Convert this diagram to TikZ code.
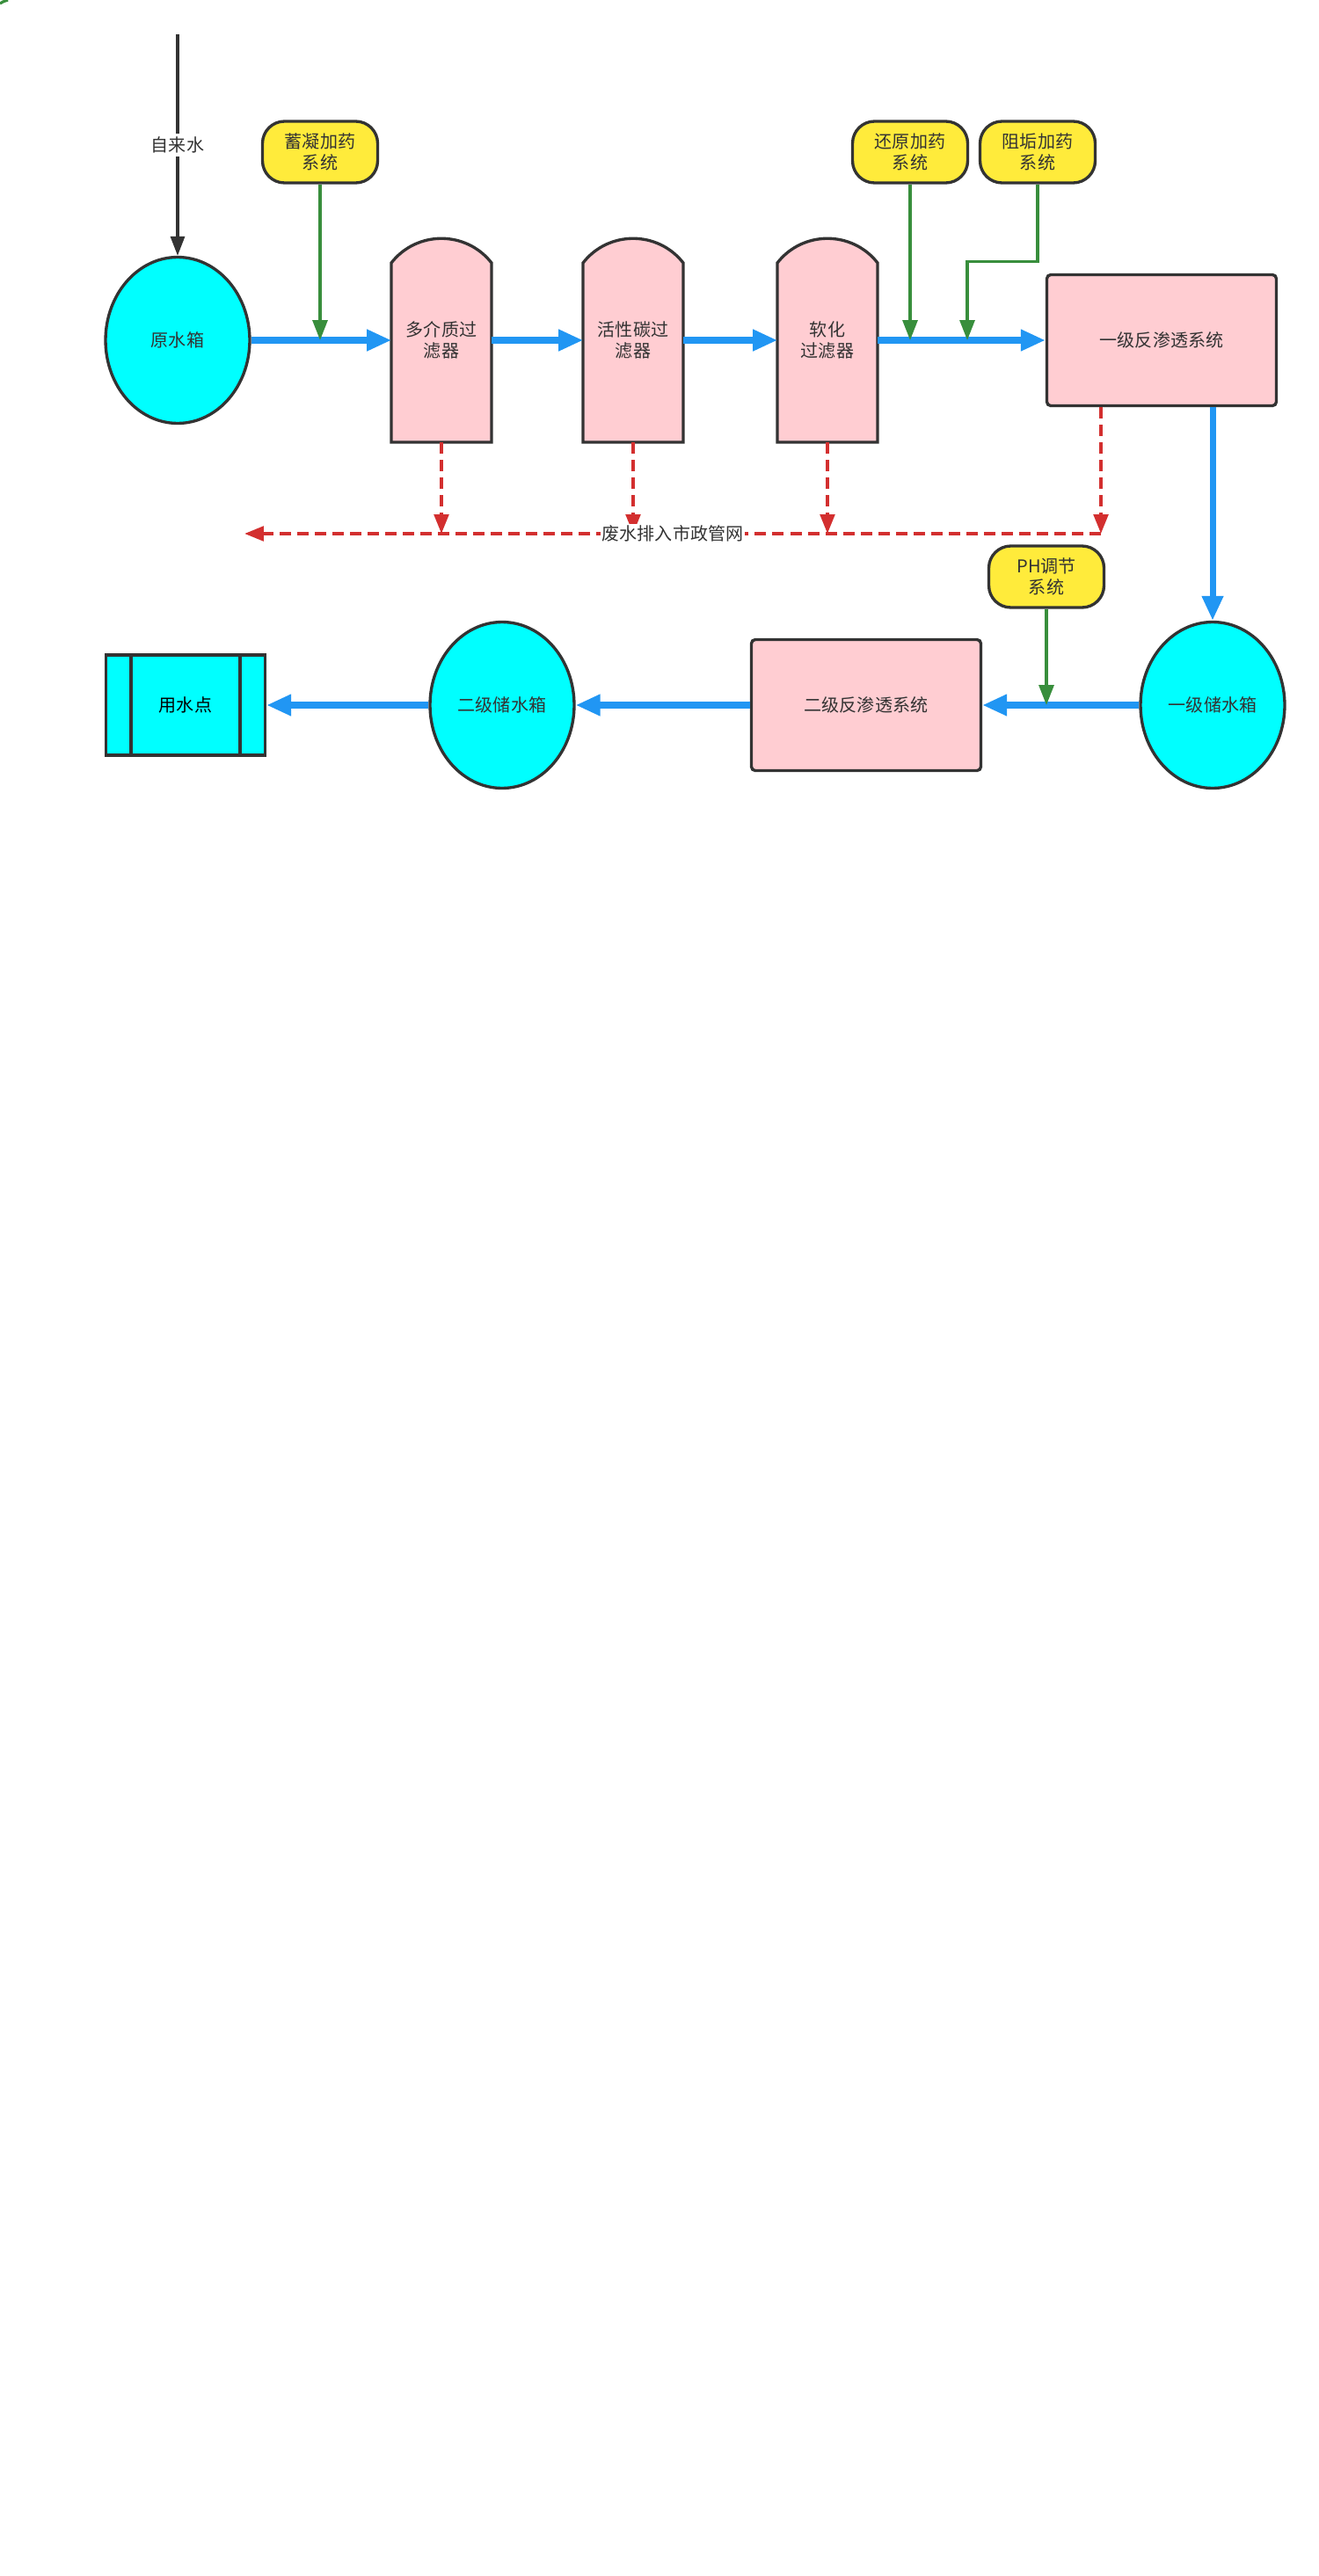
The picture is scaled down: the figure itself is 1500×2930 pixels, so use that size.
\documentclass[tikz,border=0pt]{standalone}
\usepackage{fontspec}
\setmainfont{Noto Sans CJK SC}
\usetikzlibrary{arrows.meta,shapes.geometric}

\definecolor{ink}{HTML}{333333}
\definecolor{tankcyan}{HTML}{00FFFF}
\definecolor{unitpink}{HTML}{FFCDD2}
\definecolor{doseyellow}{HTML}{FFEB3B}
\definecolor{flowblue}{HTML}{2196F3}
\definecolor{dosegreen}{HTML}{388E3C}
\definecolor{wastered}{HTML}{D32F2F}

\tikzset{
    tank/.style={ellipse, draw=ink, line width=1.9pt, fill=tankcyan, minimum width=3.28cm, minimum height=3.78cm, inner sep=0pt},
    dosing/.style={rectangle, rounded corners=0.5cm, draw=ink, line width=1.9pt, fill=doseyellow, minimum width=2.62cm, minimum height=1.4cm, align=center, inner sep=0pt},
    unit/.style={rectangle, rounded corners=2.5pt, draw=ink, line width=1.9pt, fill=unitpink, minimum width=5.22cm, minimum height=2.98cm, inner sep=0pt},
    filterbox/.style={rectangle, minimum width=2.26cm, minimum height=4.64cm, align=center, inner sep=0pt},
    outline/.style={draw=ink, line width=1.9pt, fill=unitpink},
    flow/.style={draw=flowblue, line width=4pt, -{Triangle[length=0.56cm, width=0.46cm]}},
    dose/.style={draw=dosegreen, line width=1.8pt, -{Triangle[length=0.46cm, width=0.34cm]}},
    waste/.style={draw=wastered, line width=2.2pt, dash pattern=on 7.4pt off 4pt, -{Triangle[length=0.44cm, width=0.33cm]}},
    feed/.style={draw=ink, line width=1.8pt, -{Triangle[length=0.44cm, width=0.32cm]}}
}

\begin{document}
\begin{tikzpicture}[x=0.02cm, y=-0.02cm, font=\fontsize{11.4}{13.7}\selectfont, text=ink]

    \useasboundingbox[fill=white] (0, 0) rectangle (1500, 2930);

    \draw[dosegreen, line width=1.8pt] (0, 4) .. controls (3, 2) .. (9, 0);

    \foreach \n/\x/\t in {f1/502/{多介质过\\滤器}, f2/720/{活性碳过\\滤器}, f3/941/{软化\\过滤器}} {
            \draw[outline] (\x - 57, 503) -- (\x - 57, 299) .. controls (\x - 28, 262) and (\x + 28, 262) .. (\x + 57, 299) -- (\x + 57, 503) -- cycle;
            \node[filterbox] (\n) at (\x, 387) {\t};
        }

    \node[tank] (raw) at (202, 387) {原水箱};
    \node[dosing] (coag) at (364, 173) {蓄凝加药\\系统};
    \node[dosing] (reduce) at (1035, 173) {还原加药\\系统};
    \node[dosing] (anti) at (1180, 173) {阻垢加药\\系统};
    \node[unit] (ro1) at (1321, 387) {一级反渗透系统};
    \node[dosing] (ph) at (1190, 656) {PH调节\\系统};
    \node[tank] (tank1) at (1379, 802) {一级储水箱};
    \node[unit] (ro2) at (985, 802) {二级反渗透系统};
    \node[tank] (tank2) at (571, 802) {二级储水箱};
    \node[rectangle, draw=ink, line width=1.9pt, fill=tankcyan, minimum width=3.62cm, minimum height=2.28cm, text=black] (use) at (211, 802) {用水点};
    \draw[draw=ink, line width=1.9pt] ([xshift=0.6cm]use.north west) -- ([xshift=0.6cm]use.south west);
    \draw[draw=ink, line width=1.9pt] ([xshift=-0.6cm]use.north east) -- ([xshift=-0.6cm]use.south east);

    \coordinate (tap) at (202, 39);
    \coordinate (antidrop) at (1100, 387);
    \coordinate (drainR) at (1252, 607);
    \coordinate (drainL) at (278, 607);

    \draw[feed] (tap) -- (raw.north) node[midway, fill=white, inner sep=2pt] (tapl) {自来水};

    \draw[flow] (raw.east) -- (f1.west);
    \draw[flow] (f1.east) -- (f2.west);
    \draw[flow] (f2.east) -- (f3.west);
    \draw[flow] (f3.east) -- (ro1.west);
    \draw[flow] (ro1.south -| tank1) -- (tank1.north);
    \draw[flow] (tank1.west) -- (ro2.east);
    \draw[flow] (ro2.west) -- (tank2.east);
    \draw[flow] (tank2.west) -- (use.east);

    \draw[dose] (coag.south) -- (coag |- raw);
    \draw[dose] (reduce.south) -- (reduce |- f3);
    \draw[dose] (anti.south) -- ++(0, 88) -| (antidrop);
    \draw[dose] (ph.south) -- (ph |- tank1);

    \foreach \n in {f1, f2, f3} {
            \draw[waste] (\n.south) -- (\n.south |- drainR);
        }
    \draw[waste] (ro1.south -| drainR) -- (drainR);
    \draw[waste] (drainR) -- (drainL) node[midway, fill=white, inner sep=1pt] (drainl) {废水排入市政管网};

\end{tikzpicture}
\end{document}
